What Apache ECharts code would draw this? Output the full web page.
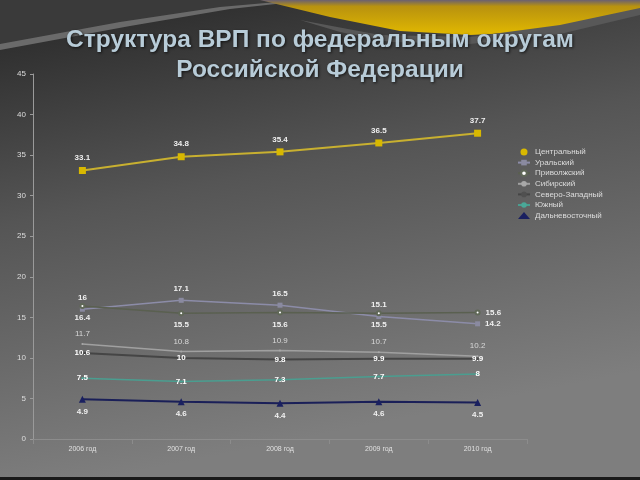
<!DOCTYPE html>
<html><head><meta charset="utf-8">
<script src="https://cdn.jsdelivr.net/npm/echarts@6/dist/echarts.min.js"></script>
<style>html,body{margin:0;padding:0;background:#333}#c{width:640px;height:480px}</style>
</head><body><div id="c"></div>
<script>
var categories = ['2006 год', '2007 год', '2008 год', '2009 год', '2010 год'];
var central = [33.1, 34.8, 35.4, 36.5, 37.7];
var ural = [16, 17.1, 16.5, 15.1, 14.2];
var volga = [16.4, 15.5, 15.6, 15.5, 15.6];
var siberia = [11.7, 10.8, 10.9, 10.7, 10.2];
var northwest = [10.6, 10, 9.8, 9.9, 9.9];
var south = [7.5, 7.1, 7.3, 7.7, 8];
var fareast = [4.9, 4.6, 4.4, 4.6, 4.5];
var yTicks = [0, 45, 5];

var chart = echarts.init(document.getElementById('c'));
var F = 'Liberation Sans, Arial, sans-serif';
function lbl(pos, color, bold) {
  return {
    show: true, position: pos, color: color, fontSize: 8, fontFamily: F,
    fontWeight: bold ? 'bold' : 'normal', distance: 5
  };
}
function withLast(arr, pos) {
  return arr.map(function (v, i) {
    if (i === arr.length - 1) return { value: v, label: { position: pos } };
    return v;
  });
}
chart.setOption({
  animation: false,
  backgroundColor: {
    type: 'linear', x: 0, y: 0, x2: 0.15, y2: 1,
    colorStops: [{ offset: 0, color: '#262626' }, { offset: 0.45, color: '#555555' }, { offset: 1, color: '#7e7e7e' }]
  },
  graphic: [
    { type: 'polygon', z: -10, silent: true,
      shape: { points: [[0, 0], [300, 0], [220, 10], [120, 26], [0, 48]] }, style: { fill: '#3a3a3a' } },
    { type: 'polygon', z: -9, silent: true,
      shape: { points: [[0, 44], [120, 22], [220, 7], [300, 0], [312, 0], [230, 9], [130, 26], [0, 50]] }, style: { fill: '#6a6a6a' } },
    { type: 'polygon', z: -8, silent: true,
      shape: { points: [[260, 0], [640, 0], [640, 10], [590, 22], [530, 32], [470, 35], [400, 31], [330, 17]] },
      style: { fill: { type: 'linear', x: 0, y: 0, x2: 0, y2: 1, colorStops: [{ offset: 0, color: '#6a6070' }, { offset: 0.18, color: '#b8920f' }, { offset: 1, color: '#e2b900' }] } } },
    { type: 'polygon', z: -7, silent: true,
      shape: { points: [[300, 20], [380, 35], [470, 37], [560, 25], [640, 8], [640, 15], [560, 34], [470, 44], [390, 42], [340, 32]] },
      style: { fill: '#585858' } },
    { type: 'rect', z: -6, silent: true, shape: { x: 0, y: 477, width: 640, height: 3 }, style: { fill: '#1a1a1a' } }
  ],
  title: {
    text: 'Структура ВРП по федеральным округам\nРоссийской Федерации',
    left: 315, top: 20, textAlign: 'center',
    textStyle: { fontFamily: F, fontSize: 24.5, fontWeight: 'bold', color: '#b8ccd8', lineHeight: 30,
      textShadowColor: 'rgba(0,0,0,0.7)', textShadowBlur: 3, textShadowOffsetX: 1, textShadowOffsetY: 1 }
  },
  legend: {
    orient: 'vertical', left: 512, top: 143, itemGap: 2.6, itemWidth: 12, itemHeight: 7,
    textStyle: { color: '#dddddd', fontSize: 8, fontFamily: F },
    data: [
      { name: 'Центральный', icon: 'circle' },
      { name: 'Уральский' },
      { name: 'Приволжский' },
      { name: 'Сибирский' },
      { name: 'Северо-Западный' },
      { name: 'Южный' },
      { name: 'Дальневосточный', icon: 'triangle' }
    ]
  },
  grid: { left: 33, right: 113, top: 74, bottom: 41 },
  xAxis: {
    type: 'category', data: categories, boundaryGap: true,
    axisLine: { lineStyle: { color: '#8c8c8c', width: 1 } },
    axisTick: { show: true, lineStyle: { color: '#8c8c8c' } },
    axisLabel: { color: '#e0e0e0', fontSize: 7, fontFamily: F, margin: 7 }
  },
  yAxis: {
    type: 'value', min: yTicks[0], max: yTicks[1], interval: yTicks[2],
    axisLine: { show: true, lineStyle: { color: '#9a9a9a', width: 1 } },
    axisTick: { show: true, length: 3, lineStyle: { color: '#9a9a9a' } },
    splitLine: { show: false },
    axisLabel: { color: '#dddddd', fontSize: 8, fontFamily: F, margin: 7 }
  },
  series: [
    { name: 'Центральный', type: 'line', data: central, symbol: 'rect', symbolSize: 7,
      itemStyle: { color: '#d8b800' }, lineStyle: { color: '#c8b030', width: 2 },
      label: lbl('top', '#f0f0f0', true) },
    { name: 'Уральский', type: 'line', data: withLast(ural, 'right'), symbol: 'rect', symbolSize: 5,
      itemStyle: { color: '#8a8aa0' }, lineStyle: { color: '#8c8ca8', width: 1.5 },
      label: lbl('top', '#f0f0f0', true) },
    { name: 'Приволжский', type: 'line', data: withLast(volga, 'right'), symbol: 'emptyCircle', symbolSize: 4,
      itemStyle: { color: '#606858' }, lineStyle: { color: '#5a6050', width: 1.5 },
      label: lbl('bottom', '#f0f0f0', true) },
    { name: 'Сибирский', type: 'line', data: siberia, symbol: 'circle', symbolSize: 2, showSymbol: true,
      itemStyle: { color: '#a8a8a8' }, lineStyle: { color: '#a0a0a0', width: 1.5 },
      label: lbl('top', '#d8d8d8', false) },
    { name: 'Северо-Западный', type: 'line', data: northwest, symbol: 'circle', symbolSize: 3,
      itemStyle: { color: '#505050' }, lineStyle: { color: '#454545', width: 2 },
      label: lbl('inside', '#ffffff', true) },
    { name: 'Южный', type: 'line', data: south, symbol: 'circle', symbolSize: 2, showSymbol: true,
      itemStyle: { color: '#4aa898' }, lineStyle: { color: '#4a9e90', width: 1.5 },
      label: lbl('inside', '#ffffff', true) },
    { name: 'Дальневосточный', type: 'line', data: fareast, symbol: 'triangle', symbolSize: 7,
      itemStyle: { color: '#1a2060' }, lineStyle: { color: '#1a1f58', width: 2 },
      label: lbl('bottom', '#f0f0f0', true) }
  ]
});
</script></body></html>
